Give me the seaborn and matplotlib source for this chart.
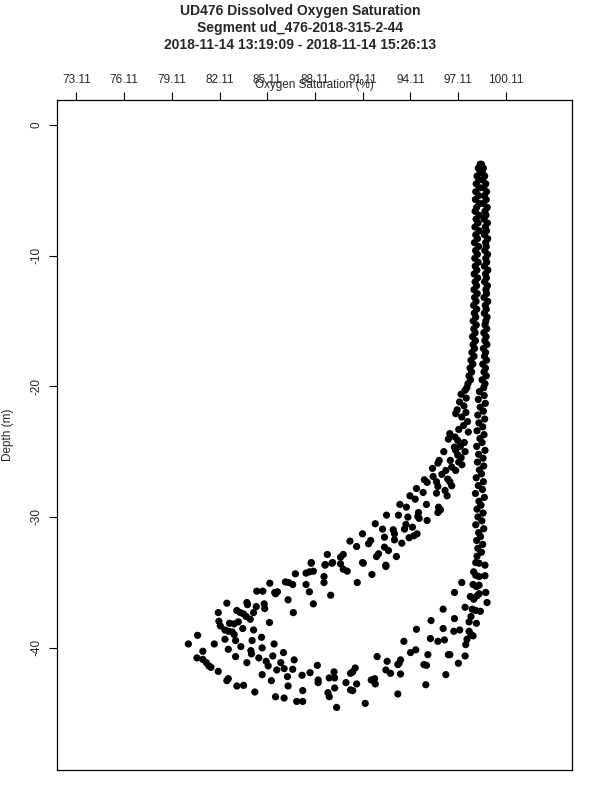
import numpy as np
import pandas as pd
import seaborn as sns
import matplotlib
matplotlib.use("Agg")
import matplotlib.pyplot as plt

# --- donnees (saturation O2 en %, profondeur en m) ---

# colonne haute : les deux passages (descente / remontee) se superposent
depth_column = [-3.0, -3.3, -3.6, -3.9, -4.2, -4.5, -4.8, -5.1, -5.4, -5.7,
                -6.0, -6.3, -6.6, -6.9, -7.2, -7.5, -7.8, -8.1, -8.4, -8.7,
                -9.0, -9.3, -9.6, -9.9, -10.2, -10.5, -10.8, -11.1, -11.4, -11.7,
                -12.0, -12.3, -12.6, -12.9, -13.2, -13.5, -13.8, -14.1, -14.4, -14.7,
                -15.0, -15.3, -15.6, -15.9, -16.2, -16.5, -16.8, -17.1, -17.4, -17.7,
                -18.0, -18.3, -18.6, -18.9, -19.2, -19.5, -19.8, -20.1]
oxy_column_down = [98.50, 98.38, 98.50, 98.30, 98.42, 98.25, 98.47, 98.22, 98.40, 98.20,
                   98.45, 98.28, 98.18, 98.42, 98.24, 98.36, 98.17, 98.44, 98.22, 98.33,
                   98.14, 98.40, 98.21, 98.32, 98.16, 98.37, 98.19, 98.29, 98.12, 98.34,
                   98.18, 98.27, 98.11, 98.31, 98.15, 98.24, 98.09, 98.28, 98.13, 98.22,
                   98.06, 98.25, 98.10, 98.18, 98.02, 98.20, 98.05, 98.14, 97.98, 98.11,
                   97.92, 98.04, 97.86, 97.96, 97.80, 97.89, 97.73, 97.66]
oxy_column_up = [98.58, 98.70, 98.62, 98.78, 98.66, 98.85, 98.72, 98.90, 98.76, 98.88,
                 98.70, 98.94, 98.80, 98.86, 98.74, 98.95, 98.82, 98.90, 98.77, 98.97,
                 98.84, 98.88, 98.79, 98.96, 98.85, 98.91, 98.76, 98.98, 98.83, 98.89,
                 98.78, 98.95, 98.86, 98.90, 98.74, 98.97, 98.82, 98.88, 98.76, 98.93,
                 98.85, 98.80, 98.91, 98.73, 98.87, 98.79, 98.92, 98.70, 98.84, 98.77,
                 98.90, 98.66, 98.83, 98.74, 98.88, 98.62, 98.80, 98.72]

# branche droite (remontee) sous -20 m
depth_right = [-20.4, -20.7, -21.0, -21.3, -21.6, -21.9, -22.2, -22.5, -22.8, -23.1,
               -23.4, -23.7, -24.0, -24.3, -24.6, -24.9, -25.2, -25.5, -25.8, -26.1,
               -26.4, -26.7, -27.0, -27.3, -27.6, -27.9, -28.2, -28.5, -28.8, -29.1,
               -29.4, -29.7, -30.0, -30.3, -30.6, -30.9, -31.2, -31.5, -31.8, -32.1,
               -32.4, -32.7, -33.0]
oxy_right = [98.45, 98.75, 98.38, 98.82, 98.50, 98.70, 98.35, 98.78, 98.42, 98.66,
             98.30, 98.74, 98.48, 98.62, 98.28, 98.80, 98.40, 98.68, 98.33, 98.72,
             98.45, 98.58, 98.25, 98.70, 98.38, 98.64, 98.20, 98.76, 98.42, 98.55,
             98.30, 98.68, 98.36, 98.60, 98.22, 98.72, 98.40, 98.52, 98.28, 98.66,
             98.35, 98.58, 98.30]

# branche diagonale (descente) et boucle du fond
oxy_loop = [97.55, 97.30, 97.62, 97.20, 97.48, 97.05, 97.60, 97.70, 97.45, 97.15,
            97.75, 97.50, 97.25, 97.55, 97.15, 97.35,
            96.96, 97.34, 96.59, 96.50, 96.92, 97.09, 96.21, 96.88, 96.96, 97.09,
            97.30, 95.92, 95.84, 96.62, 95.50, 96.34, 96.71, 96.96, 95.54, 96.09,
            94.99, 95.16, 95.75, 95.84, 96.46, 96.59, 96.71, 96.29, 96.42, 94.49,
            94.91, 94.08, 95.75, 94.41, 93.45, 93.86, 95.12, 95.88, 96.00, 95.84,
            93.36, 92.61, 93.95, 94.62, 94.58, 94.66, 95.16, 91.90, 93.83, 93.74,
            92.36, 93.03, 93.11, 94.24, 94.53, 94.33, 91.10, 91.61, 91.48, 92.48,
            93.11, 93.57, 94.03, 90.31, 90.73, 92.48, 92.73, 92.11, 91.98, 93.23,
            89.89, 89.72, 88.89, 91.10, 92.57, 89.22, 88.76, 87.88,
            87.87, 88.74, 86.88, 87.55, 87.76, 88.01, 88.68, 88.68, 85.27, 86.25,
            86.46, 86.71, 87.55, 84.45, 84.83, 85.58, 85.75, 85.63, 87.76, 86.42,
            82.57, 83.83, 83.87, 84.42, 84.92, 84.95, 88.01, 82.03, 83.20, 83.41,
            83.62, 83.79, 84.04, 84.25, 86.75, 82.07, 82.16, 82.74, 83.03, 83.29,
            85.25, 82.45, 82.66, 82.91, 83.03, 83.57, 84.25, 80.73, 82.45, 83.12,
            84.16, 84.75, 80.15, 81.78, 83.45, 82.66, 84.79, 85.54, 81.06, 84.08,
            84.12, 86.13, 80.69, 81.06, 81.28, 81.44, 81.57, 83.12, 84.58, 85.46,
            83.83, 85.04, 85.17, 85.96, 86.80, 82.03, 85.71, 86.17, 86.71, 84.79,
            86.38, 87.30, 87.80, 88.26, 82.66, 82.57, 85.37, 88.31, 88.31, 89.01,
            83.20, 83.62, 86.42, 84.33, 87.34, 88.93, 89.01, 85.63, 86.17, 86.96,
            87.34,
            89.18, 89.72, 89.89, 90.14, 91.15, 92.57, 91.69, 90.77, 89.10,
            98.22, 98.43, 98.80, 98.09, 98.22, 98.43, 98.80, 97.34, 98.05, 98.26,
            98.43, 96.88, 98.85, 97.88, 98.09, 98.30, 98.43, 98.93, 97.55, 98.00,
            98.22, 98.51, 96.17, 96.88, 97.92, 97.80, 98.26, 95.41, 94.49, 96.17,
            96.84, 97.21, 97.80, 97.92, 98.05, 97.67, 97.59, 95.37, 95.84, 96.25,
            93.70, 94.45, 94.12, 95.21, 96.50, 96.59, 97.55, 92.02, 93.49, 93.40,
            93.32, 92.65, 97.13, 94.96, 95.12, 92.57, 92.86, 93.49, 90.64, 90.48,
            90.35, 89.31, 89.35, 96.34, 91.65, 91.86, 91.90, 90.06, 90.73, 95.08,
            89.35, 90.35, 90.48, 93.32, 91.27, 89.47]
depth_loop = [-20.3, -20.6, -20.9, -21.2, -21.5, -21.8, -22.0, -22.7, -23.0, -23.3,
              -23.5, -24.3, -24.6, -25.0, -25.8, -26.0,
              -22.09, -22.35, -23.62, -24.04, -23.88, -24.14, -25.00, -24.65, -24.90, -25.26,
              -25.46, -25.67, -25.88, -25.67, -26.28, -26.44, -26.18, -26.44, -26.90, -26.74,
              -27.15, -27.35, -27.30, -27.66, -27.10, -27.30, -27.61, -27.97, -28.38, -27.82,
              -28.12, -28.38, -28.18, -28.64, -29.04, -29.25, -29.04, -29.25, -29.45, -29.66,
              -29.86, -29.86, -30.01, -29.66, -29.96, -30.11, -30.27, -30.52, -30.57, -30.93,
              -30.93, -30.98, -31.29, -30.78, -31.29, -31.44, -31.29, -31.80, -32.05, -31.55,
              -31.75, -32.01, -31.59, -31.85, -32.26, -32.31, -32.57, -32.82, -33.03, -33.03,
              -32.87, -33.08, -32.87, -33.49, -33.69, -33.49, -33.64, -33.49,
              -33.54, -33.69, -34.35, -34.30, -34.20, -34.15, -34.56, -35.02, -35.07, -34.97,
              -35.02, -35.17, -35.17, -35.68, -35.68, -35.78, -35.73, -35.88, -35.73, -36.34,
              -36.60, -36.55, -36.71, -36.86, -36.65, -37.01, -36.65, -37.32, -37.16, -37.32,
              -37.42, -37.62, -37.83, -37.32, -37.32, -37.98, -38.34, -38.14, -38.18, -38.03,
              -38.08, -38.65, -38.75, -38.80, -39.00, -38.54, -38.65, -39.06, -39.36, -39.46,
              -39.46, -39.21, -39.72, -39.72, -39.92, -40.13, -40.02, -39.72, -40.28, -40.23,
              -40.48, -40.38, -40.79, -40.90, -41.15, -41.40, -41.51, -40.69, -40.79, -40.64,
              -41.15, -41.05, -41.40, -41.15, -40.94, -41.82, -41.71, -41.61, -41.66, -42.07,
              -42.22, -42.12, -41.92, -41.36, -42.38, -42.53, -42.53, -42.48, -42.68, -42.32,
              -42.94, -42.89, -42.94, -43.40, -43.29, -43.45, -43.76, -43.76, -43.86, -44.12,
              -44.12,
              -33.54, -33.59, -34.00, -34.15, -33.54, -33.79, -34.40, -35.02, -35.99,
              -33.49, -33.54, -33.69, -34.20, -34.46, -34.56, -34.50, -35.02, -35.17, -35.33,
              -35.22, -35.78, -35.78, -36.09, -36.30, -36.04, -35.88, -36.55, -36.91, -37.06,
              -37.16, -37.22, -37.06, -37.78, -37.62, -38.03, -38.14, -37.93, -38.60, -38.54,
              -38.75, -38.65, -38.75, -39.00, -39.10, -39.36, -39.77, -39.31, -39.52, -39.41,
              -39.52, -40.17, -40.38, -40.54, -40.54, -40.54, -40.64, -40.69, -40.94, -41.20,
              -41.30, -41.05, -41.20, -41.30, -41.36, -41.71, -41.97, -42.02, -41.56, -41.86,
              -41.97, -41.86, -42.32, -42.07, -42.48, -42.38, -42.78, -42.68, -42.78, -42.84,
              -43.09, -43.24, -43.29, -43.55, -44.27, -44.58]

x_tick_values = [73.11, 76.11, 79.11, 82.11, 85.11, 88.11, 91.11, 94.11, 97.11, 100.11]
x_tick_labels = ["73.11", "76.11", "79.11", "82.11", "85.11", "88.11",
                 "91.11", "94.11", "97.11", "100.11"]
y_tick_values = [0, -10, -20, -30, -40]

title_lines = ["UD476 Dissolved Oxygen Saturation",
               "Segment ud_476-2018-315-2-44",
               "2018-11-14 13:19:09 - 2018-11-14 15:26:13"]

df = pd.DataFrame({
    "oxygen": oxy_column_down + oxy_column_up + oxy_right + oxy_loop,
    "depth": depth_column + depth_column + depth_right + depth_loop,
})

sns.set_style("ticks")
plt.rcParams["font.family"] = ["Liberation Sans", "DejaVu Sans"]

fig = plt.figure(figsize=(6, 8), dpi=100)
ax = fig.add_axes([0.0955, 0.037, 0.857, 0.838])

sns.scatterplot(data=df, x="oxygen", y="depth", ax=ax, color="black",
                s=27, edgecolor="none", linewidth=0, legend=False)

ax.set_xlim(71.91, 104.24)
ax.set_ylim(-49.4, 1.92)

ax.xaxis.tick_top()
ax.set_xticks(x_tick_values)
ax.set_xticklabels(x_tick_labels, fontsize=8.5)
ax.set_yticks(y_tick_values)
ax.set_yticklabels([str(v) for v in y_tick_values], fontsize=8.5,
                   rotation=90, va="center")
ax.tick_params(axis="both", direction="out", length=5.8, width=0.8,
               color="black", pad=4.5)

for sp in ax.spines.values():
    sp.set_visible(True)
    sp.set_linewidth(0.9)
    sp.set_color("black")

# comme sur l'original, le titre d'axe chevauche les graduations du haut
ax.set_xlabel("Oxygen Saturation (%)", fontsize=8.5)
ax.xaxis.set_label_position("top")
ax.xaxis.set_label_coords(0.5, 1.0224)
ax.xaxis.label.set_va("center")
ax.set_ylabel("Depth (m)", fontsize=8.5)
ax.yaxis.set_label_coords(-0.096, 0.5)
ax.yaxis.label.set_va("center")

for i, line in enumerate(title_lines):
    fig.text(0.5, 1 - (11 + 17 * i) / 800, line, ha="center", va="center",
             fontsize=10, fontweight="bold")

plt.savefig("out.png", dpi=100)
